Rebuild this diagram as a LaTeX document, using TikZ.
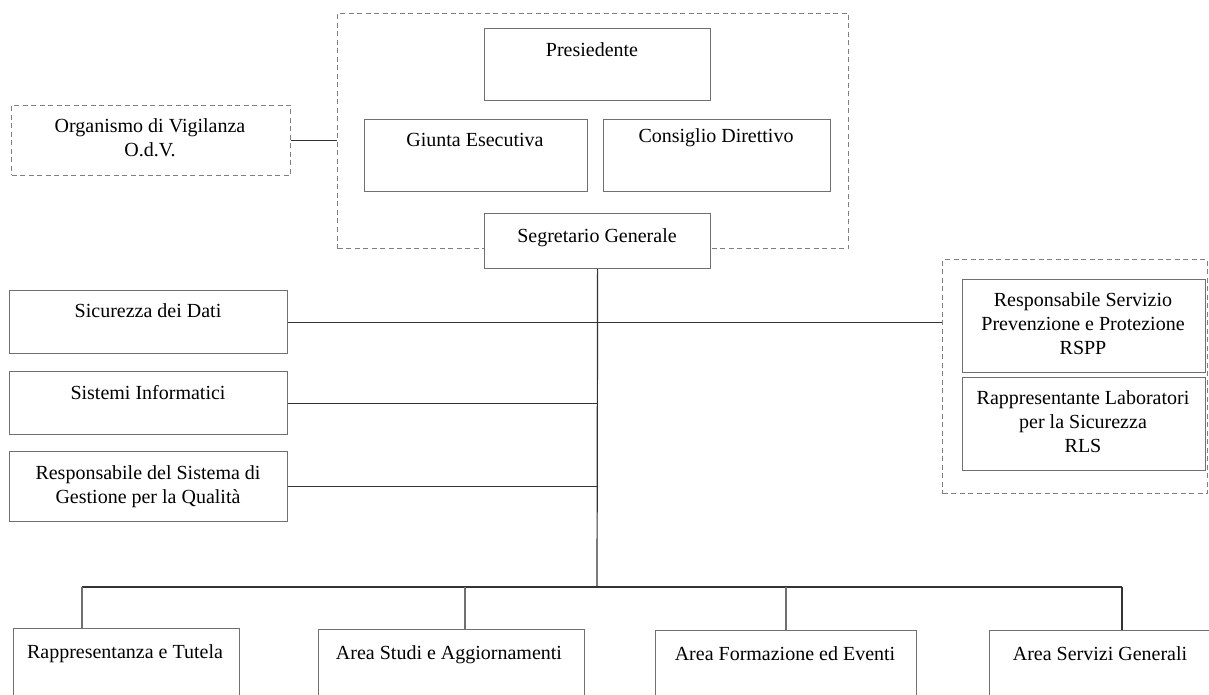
\documentclass[tikz,border=0pt]{standalone}
\usepackage{fontspec}
\setmainfont{Liberation Serif}
\definecolor{boxline}{HTML}{707070}
\definecolor{conn}{HTML}{333333}
\definecolor{dashline}{HTML}{808080}
\begin{document}
\begin{tikzpicture}[x=1pt,y=-1pt,
  box/.style={draw=boxline, line width=1.2pt, inner sep=0pt, anchor=north west},
  dbox/.style={draw=dashline, line width=1pt, dash pattern=on 5pt off 3.5pt, inner sep=0pt, anchor=north west},
  txt/.style={font=\fontsize{20}{24}\selectfont, inner sep=0pt, anchor=base, align=center},
  con/.style={draw=conn, line width=1.2pt}]
\useasboundingbox (0,0) rectangle (1209,695);
\clip (0,0) rectangle (1209,695);
% dashed groups
\node[dbox, minimum width=511pt, minimum height=235pt] (top) at (337,13) {};
\node[dbox, minimum width=265pt, minimum height=234pt] (safe) at (942,259) {};
\node[dbox, minimum width=279pt, minimum height=70pt] (odv) at (11,105) {};
% top boxes
\node[box, fill=white, minimum width=226pt, minimum height=72pt] (pres) at (484,28) {};
\node[box, fill=white, minimum width=223pt, minimum height=72pt] (giun) at (364,119) {};
\node[box, fill=white, minimum width=227pt, minimum height=72pt] (cons) at (603,119) {};
\node[box, fill=white, minimum width=226pt, minimum height=55pt] (seg) at (484,213) {};
% right boxes
\node[box, minimum width=243pt, minimum height=93pt] (rspp) at (962,279) {};
\node[box, minimum width=243pt, minimum height=93pt] (rls) at (962,377) {};
% left boxes
\node[box, minimum width=278pt, minimum height=63pt] (sic) at (9,290) {};
\node[box, minimum width=278pt, minimum height=63pt] (sis) at (9,371) {};
\node[box, minimum width=278pt, minimum height=70pt] (rsq) at (9,451) {};
% bottom boxes
\node[box, minimum width=226pt, minimum height=80pt] (b1) at (13,628) {};
\node[box, minimum width=266pt, minimum height=80pt] (b2) at (318,629) {};
\node[box, minimum width=261pt, minimum height=80pt] (b3) at (655,630) {};
\node[box, minimum width=225pt, minimum height=80pt] (b4) at (989,630) {};
% texts (base = baseline of the last line)
\node[txt] (tpres) at (592,57) {Presiedente};
\node[txt] (tgiun) at (475,147) {Giunta Esecutiva};
\node[txt] (tcons) at (716,143) {Consiglio Direttivo};
\node[txt] (tseg) at (597,242) {Segretario Generale};
\node[txt] (todv) at (150,157) {Organismo di Vigilanza\\O.d.V.};
\node[txt] (trspp) at (1083,354) {Responsabile Servizio\\Prevenzione e Protezione\\RSPP};
\node[txt] (trls) at (1083,452) {Rappresentante Laboratori\\per la Sicurezza\\RLS};
\node[txt] (tsic) at (148,317) {Sicurezza dei Dati};
\node[txt] (tsis) at (148,399) {Sistemi Informatici};
\node[txt] (trsq) at (148,503) {Responsabile del Sistema di\\Gestione per la Qualit\`a};
\node[txt] (tb1) at (125,658) {Rappresentanza e Tutela};
\node[txt] (tb2) at (449,659) {Area Studi e Aggiornamenti};
\node[txt] (tb3) at (785,660) {Area Formazione ed Eventi};
\node[txt] (tb4) at (1100,660) {Area Servizi Generali};
% connectors
\coordinate (bus) at (597,587);
\coordinate (d1) at (82,587);
\coordinate (d2) at (465,587);
\coordinate (d3) at (786,587);
\coordinate (d4) at (1122,587);
\draw[con] (odv.east) -- (odv.east -| top.west);
\draw[con] (seg.south) -- (bus);
\draw[con] (sic.east) -- (sic.east -| safe.west);
\draw[con] (sis.east) -- (sis.east -| seg.south);
\draw[con] (rsq.east) -- (rsq.east -| seg.south);
\draw[con] (d1) -- (d4);
\draw[con, draw=boxline] (d1) -- (d1 |- b1.north);
\draw[con, draw=boxline] (d2) -- (d2 |- b2.north);
\draw[con, draw=boxline] (d3) -- (d3 |- b3.north);
\draw[con] (d4) -- (d4 |- b4.north);
\end{tikzpicture}
\end{document}
